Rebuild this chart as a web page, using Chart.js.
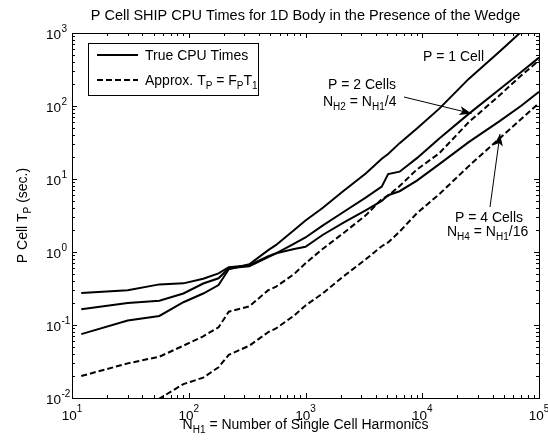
<!DOCTYPE html>
<html lang="en">
<head>
<meta charset="UTF-8">
<title>P Cell SHIP CPU Times</title>
<script src="https://cdn.jsdelivr.net/npm/chart.js"></script>
<style>
    body { margin: 0; background: #fff; }
    #box { width: 548px; height: 445px; }
</style>
</head>
<body>
<div id="box"><canvas id="tempos" width="548" height="445"></canvas></div>

<script>
// harmonicos (eixo x) e tempos
var NH = [12, 30, 56, 90, 133, 180, 220, 330, 480, 560, 800, 1000, 1400, 2100, 3300, 4500, 5100, 6400, 9000, 14000, 25000, 46000, 70000, 100000];

var trueP1 = [0.075, 0.115, 0.133, 0.205, 0.27, 0.353, 0.58, 0.68, 1.06, 1.25, 2.0, 2.7, 4.0, 6.8, 12, 19, 22, 31, 49, 92, 235, 560, 1030, 1700];
var trueP2 = [0.164, 0.20, 0.215, 0.27, 0.37, 0.436, 0.60, 0.64, 0.85, 0.96, 1.3, 1.58, 2.3, 3.5, 5.6, 7.85, 11.7, 12.6, 19.3, 36, 78, 170, 290, 460];
var trueP4 = [0.274, 0.30, 0.36, 0.372, 0.43, 0.51, 0.62, 0.66, 0.88, 0.96, 1.1, 1.18, 1.71, 2.5, 3.76, 5.0, 6.0, 6.8, 9.5, 16, 32, 62, 100, 157];
var approxP2 = [0.020, 0.0298, 0.0368, 0.052, 0.07, 0.093, 0.152, 0.18, 0.30, 0.335, 0.5, 0.70, 1.1, 1.8, 3.2, 5.3, 5.9, 8, 13.5, 22.5, 60, 140, 260, 420];
var approxP4 = [0.0045, 0.0068, 0.0098, 0.0155, 0.019, 0.0264, 0.039, 0.052, 0.08, 0.09, 0.135, 0.185, 0.27, 0.46, 0.8, 1.2, 1.35, 1.9, 3.4, 6.2, 15, 36, 66, 110];

var xTicks = [10, 100, 1000, 10000, 100000];
var xTickExp = ['1', '2', '3', '4', '5'];
var yTicks = [0.01, 0.1, 1, 10, 100, 1000];
var yTickExp = ['-2', '-1', '0', '1', '2', '3'];

var fonte = '"Liberation Sans", Arial, sans-serif';

function pontos(valores) {
    return NH.map(function (n, i) { return { x: n, y: valores[i] }; });
}

function serie(nome, valores, tracejado) {
    return {
        label: nome,
        data: pontos(valores),
        showLine: true,
        borderColor: '#000',
        borderWidth: 2,
        borderDash: tracejado ? [6, 3] : [],
        pointRadius: 0,
        tension: 0,
        fill: false,
        clip: 0
    };
}

// escreve texto com partes em subscrito / sobrescrito
function textoRico(ctx, partes, x, y, alinhar, tam) {
    tam = tam || 14;
    var total = 0;
    partes.forEach(function (p) {
        ctx.font = (p.sub || p.sup ? 10 : tam) + 'px ' + fonte;
        p.w = ctx.measureText(p.t).width;
        total += p.w;
    });
    var cx = x;
    if (alinhar == 'center') cx = x - total / 2;
    if (alinhar == 'right') cx = x - total;
    ctx.textAlign = 'left';
    ctx.textBaseline = 'alphabetic';
    partes.forEach(function (p) {
        ctx.font = (p.sub || p.sup ? 10 : tam) + 'px ' + fonte;
        var dy = p.sub ? 4 : (p.sup ? -8 : 0);
        ctx.fillText(p.t, cx, y + dy);
        cx += p.w;
    });
}

function seta(ctx, x1, y1, x2, y2) {
    var ang = Math.atan2(y2 - y1, x2 - x1);
    ctx.beginPath();
    ctx.moveTo(x1, y1);
    ctx.lineTo(x2, y2);
    ctx.lineWidth = 1;
    ctx.stroke();
    ctx.beginPath();
    ctx.moveTo(x2, y2);
    ctx.lineTo(x2 - 12 * Math.cos(ang) + 4.5 * Math.sin(ang), y2 - 12 * Math.sin(ang) - 4.5 * Math.cos(ang));
    ctx.lineTo(x2 - 9 * Math.cos(ang), y2 - 9 * Math.sin(ang));
    ctx.lineTo(x2 - 12 * Math.cos(ang) - 4.5 * Math.sin(ang), y2 - 12 * Math.sin(ang) + 4.5 * Math.cos(ang));
    ctx.closePath();
    ctx.fill();
}

var eixosMatlab = {
    id: 'eixosMatlab',
    afterDraw: function (chart) {
        var ctx = chart.ctx;
        var a = chart.chartArea;
        var sx = chart.scales.x;
        var sy = chart.scales.y;
        ctx.save();
        ctx.strokeStyle = '#000';
        ctx.fillStyle = '#000';
        ctx.lineWidth = 1;

        // caixa
        ctx.strokeRect(Math.round(a.left) + 0.5, Math.round(a.top) + 0.5, Math.round(a.right - a.left), Math.round(a.bottom - a.top));

        // ticks para dentro
        ctx.beginPath();
        for (var d = 1; d < 5; d++) {
            for (var m = 1; m <= 9; m++) {
                var px = Math.round(sx.getPixelForValue(m * Math.pow(10, d))) + 0.5;
                var len = m == 1 ? 5 : 3;
                ctx.moveTo(px, a.bottom); ctx.lineTo(px, a.bottom - len);
                ctx.moveTo(px, a.top); ctx.lineTo(px, a.top + len);
            }
        }
        for (var e = -2; e < 3; e++) {
            for (var k = 1; k <= 9; k++) {
                var py = Math.round(sy.getPixelForValue(k * Math.pow(10, e))) + 0.5;
                var l2 = k == 1 ? 5 : 3;
                ctx.moveTo(a.left, py); ctx.lineTo(a.left + l2, py);
                ctx.moveTo(a.right, py); ctx.lineTo(a.right - l2, py);
            }
        }
        ctx.stroke();

        // rotulos dos ticks
        xTicks.forEach(function (v, i) {
            var px = sx.getPixelForValue(v);
            textoRico(ctx, [{ t: '10' }, { t: xTickExp[i], sup: true }], px, 420, 'center', 13.5);
        });
        yTicks.forEach(function (v, i) {
            var py = sy.getPixelForValue(v);
            ctx.font = '13.5px ' + fonte;
            ctx.textAlign = 'right';
            ctx.fillText('10', 61, py + 5.5);
            ctx.font = '10px ' + fonte;
            ctx.textAlign = 'left';
            ctx.fillText(yTickExp[i], 61.5, py - 1.5);
        });

        // titulo e eixos
        ctx.font = '14.5px ' + fonte;
        ctx.textAlign = 'center';
        ctx.fillText('P Cell SHIP CPU Times for 1D Body in the Presence of the Wedge', (a.left + a.right) / 2, 20);
        textoRico(ctx, [{ t: 'N' }, { t: 'H1', sub: true }, { t: ' = Number of Single Cell Harmonics' }], (a.left + a.right) / 2, 429, 'center');

        ctx.save();
        ctx.translate(27, (a.top + a.bottom) / 2);
        ctx.rotate(-Math.PI / 2);
        textoRico(ctx, [{ t: 'P Cell T' }, { t: 'P', sub: true }, { t: ' (sec.)' }], 0, 0, 'center');
        ctx.restore();

        // legenda
        ctx.fillStyle = '#fff';
        ctx.fillRect(88.5, 43.5, 170, 52);
        ctx.strokeRect(88.5, 43.5, 170, 52);
        ctx.fillStyle = '#000';
        ctx.lineWidth = 2;
        ctx.beginPath(); ctx.moveTo(97, 55); ctx.lineTo(138, 55); ctx.stroke();
        ctx.setLineDash([6, 3]);
        ctx.beginPath(); ctx.moveTo(97, 80); ctx.lineTo(138, 80); ctx.stroke();
        ctx.setLineDash([]);
        textoRico(ctx, [{ t: 'True CPU Times' }], 145, 60, 'left');
        textoRico(ctx, [{ t: 'Approx. T' }, { t: 'P', sub: true }, { t: ' = F' }, { t: 'P', sub: true }, { t: 'T' }, { t: '1', sub: true }], 145, 84.5, 'left');

        // anotacoes
        textoRico(ctx, [{ t: 'P = 1 Cell' }], 423, 61, 'left');
        textoRico(ctx, [{ t: 'P = 2 Cells' }], 362, 88.5, 'center');
        textoRico(ctx, [{ t: 'N' }, { t: 'H2', sub: true }, { t: ' = N' }, { t: 'H1', sub: true }, { t: '/4' }], 323, 105.5, 'left');
        textoRico(ctx, [{ t: 'P = 4 Cells' }], 489, 221.5, 'center');
        textoRico(ctx, [{ t: 'N' }, { t: 'H4', sub: true }, { t: ' = N' }, { t: 'H1', sub: true }, { t: '/16' }], 447, 236, 'left');
        seta(ctx, 404, 97, 471.5, 113.5);
        seta(ctx, 490, 207, 500, 134);

        ctx.restore();
    }
};

new Chart(document.getElementById('tempos'), {
    type: 'scatter',
    data: {
        datasets: [
            serie('True P=1', trueP1, false),
            serie('True P=2', trueP2, false),
            serie('True P=4', trueP4, false),
            serie('Approx P=2', approxP2, true),
            serie('Approx P=4', approxP4, true)
        ]
    },
    options: {
        responsive: false,
        animation: false,
        devicePixelRatio: 1,
        layout: { padding: { left: 72, right: 9, top: 33, bottom: 47 } },
        plugins: {
            legend: { display: false },
            tooltip: { enabled: false },
            title: { display: false }
        },
        scales: {
            x: { type: 'logarithmic', min: 10, max: 100000, display: false },
            y: { type: 'logarithmic', min: 0.01, max: 1000, display: false }
        }
    },
    plugins: [eixosMatlab]
});
</script>
</body>
</html>
